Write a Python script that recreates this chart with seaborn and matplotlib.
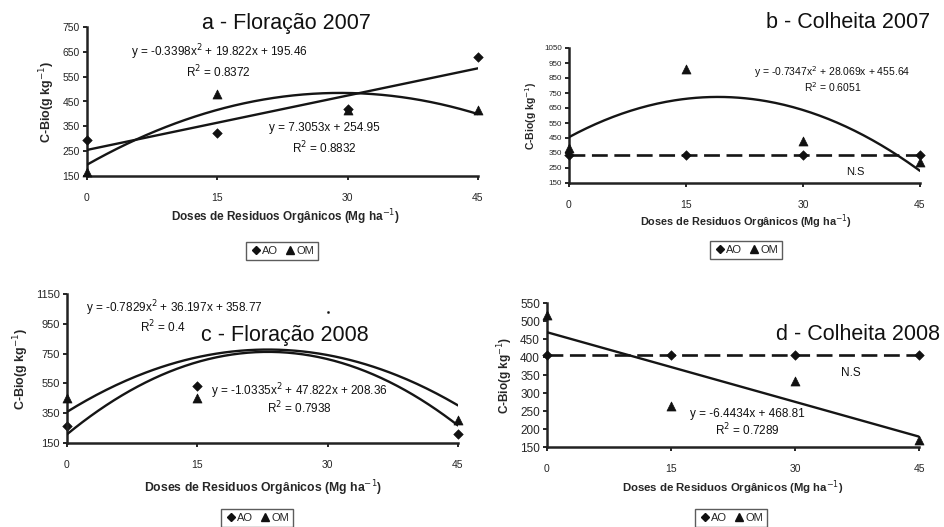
import numpy as np
import pandas as pd
import matplotlib
matplotlib.use("Agg")
import matplotlib.pyplot as plt
import seaborn as sns
from matplotlib.lines import Line2D

# doses (Mg ha-1)
doses = [0, 15, 30, 45]

# a - Floracao 2007
a_ao = [295, 323, 420, 630]
a_om = [165, 480, 415, 416]
a_fit_ao = [7.3053, 254.95]              # linear
a_fit_om = [-0.3398, 19.822, 195.46]     # quadratic

# b - Colheita 2007
b_ao = [335, 335, 335, 335]
b_om = [383, 910, 430, 290]
b_fit_om = [-0.7347, 28.069, 455.64]

# c - Floracao 2008
c_ao = [264, 533, 875, 210]
c_om = [452, 450, 1030, 304]
c_fit_om = [-0.7829, 36.197, 358.77]
c_fit_ao = [-1.0335, 47.822, 208.36]

# d - Colheita 2008
d_ao = [405, 405, 405, 405]
d_om = [517, 265, 333, 170]
d_fit_om = [-6.4434, 468.81]

sns.set_style("ticks")
plt.rcParams['font.family'] = ['Liberation Sans', 'DejaVu Sans']

W, H = 945, 527
fig = plt.figure(figsize=(W / 100, H / 100), dpi=100)

def px_axes(x0, y0, x1, y1):
    return fig.add_axes([x0 / W, 1 - y1 / H, (x1 - x0) / W, (y1 - y0) / H])

def fig_text(x, y, s, **kw):
    return fig.text(x / W, 1 - y / H, s, **kw)

def base(ax, yticks, ysize=7.5, ylab=8.5):
    ax.set_xlim(0, 45)
    ax.set_ylim(yticks[0], yticks[-1])
    ax.set_xticks(doses)
    ax.set_yticks(yticks)
    ax.tick_params(axis='x', labelsize=7.5, length=3, width=1.2, color='black', pad=9)
    ax.tick_params(axis='y', labelsize=ysize, length=3, width=1.2, color='black', pad=2)
    for s in ['top', 'right']:
        ax.spines[s].set_visible(False)
    for s in ['left', 'bottom']:
        ax.spines[s].set_linewidth(1.8)
        ax.spines[s].set_color('#222222')
    ax.set_xlabel('')
    ax.set_ylabel('C-Bio(g kg$^{-1}$)', fontsize=ylab, fontweight='bold', labelpad=4)

def points(ax, ao, om):
    df = pd.DataFrame({'dose': doses, 'AO': ao, 'OM': om})
    sns.scatterplot(data=df, x='dose', y='AO', marker='D', s=24, color='#111111',
                    edgecolor='#111111', ax=ax, clip_on=False, zorder=4)
    sns.scatterplot(data=df, x='dose', y='OM', marker='^', s=42, color='#111111',
                    edgecolor='#111111', ax=ax, clip_on=False, zorder=4)

def curve(ax, coef):
    xs = np.linspace(0, 45, 200)
    sns.lineplot(x=xs, y=np.polyval(coef, xs), color='#151515', lw=1.7, ax=ax, zorder=3)

def hline(ax, vals):
    ax.plot([0, 45], [np.mean(vals)] * 2, color='#151515', lw=1.9,
            ls=(0, (6, 2.5)), zorder=3)

def legend(cx, cy):
    h = [Line2D([], [], marker='D', ls='', color='#111111', ms=4.5),
         Line2D([], [], marker='^', ls='', color='#111111', ms=6)]
    fig.legend(h, ['AO', 'OM'], loc='center', bbox_to_anchor=(cx / W, 1 - cy / H),
               ncol=2, fontsize=8, frameon=True, fancybox=False, edgecolor='#333333',
               handletextpad=0.0, columnspacing=0.5, handlelength=1.1,
               borderpad=0.35, borderaxespad=0)

xlab = 'Doses de Residuos Orgânicos (Mg ha$^{-1}$)'
eq_kw = dict(fontsize=8.5, ha='center', va='center', color='#111111')
title_kw = dict(fontsize=15.5, va='center', color='#111111')

# ---- a
ax = px_axes(87, 27, 478, 176)
curve(ax, a_fit_ao)
curve(ax, a_fit_om)
points(ax, a_ao, a_om)
base(ax, list(range(150, 751, 100)), ylab=9)
ax.text(15.2, 649, 'y = -0.3398x$^2$ + 19.822x + 195.46', **eq_kw)
ax.text(15.1, 569, 'R$^2$ = 0.8372', **eq_kw)
ax.text(27.3, 343, 'y = 7.3053x + 254.95', **eq_kw)
ax.text(27.3, 263, 'R$^2$ = 0.8832', **eq_kw)
fig_text(286, 24, 'a - Floração 2007', ha='center', **title_kw)
fig_text(285, 217, xlab, fontsize=8.5, fontweight='bold', ha='center', va='center')
legend(282, 251)

# ---- b
ax = px_axes(569, 48, 920, 183)
curve(ax, b_fit_om)
hline(ax, b_ao)
points(ax, b_ao, b_om)
base(ax, list(range(150, 1051, 100)), ysize=5.8, ylab=7.5)
ax.text(33.8, 890, 'y = -0.7347x$^2$ + 28.069x + 455.64', fontsize=7.5,
        ha='center', va='center', color='#111111')
ax.text(33.8, 790, 'R$^2$ = 0.6051', fontsize=7.5, ha='center', va='center', color='#111111')
ax.text(36.7, 225, 'N.S', fontsize=8, ha='center', va='center', color='#111111')
fig_text(930, 23, 'b - Colheita 2007', ha='right', **title_kw)
fig_text(746, 222, xlab, fontsize=7.8, fontweight='bold', ha='center', va='center')
legend(746, 250)

# ---- c
ax = px_axes(67, 294, 458, 443)
curve(ax, c_fit_om)
curve(ax, c_fit_ao)
df_c = pd.DataFrame({'dose': doses, 'AO': c_ao, 'OM': c_om})
sns.scatterplot(data=df_c, x='dose', y='AO', marker='D', s=24, color='#111111',
                edgecolor='#111111', ax=ax, clip_on=False, zorder=2)
sns.scatterplot(data=df_c[df_c.dose != 30], x='dose', y='OM', marker='^', s=42,
                color='#111111', edgecolor='#111111', ax=ax, clip_on=False, zorder=4)
sns.scatterplot(data=df_c[df_c.dose == 30], x='dose', y='OM', marker='o', s=3,
                color='#111111', edgecolor='#111111', ax=ax, clip_on=False, zorder=4)
base(ax, list(range(150, 1151, 200)), ysize=8, ylab=9)
ax.text(12.4, 1056, 'y = -0.7829x$^2$ + 36.197x + 358.77', **eq_kw)
ax.text(11.0, 928, 'R$^2$ = 0.4', **eq_kw)
ax.text(26.7, 499, 'y = -1.0335x$^2$ + 47.822x + 208.36', **eq_kw)
ax.text(26.7, 385, 'R$^2$ = 0.7938', **eq_kw)
fig_text(285, 335, 'c - Floração 2008', ha='center', zorder=5,
         bbox=dict(facecolor='white', edgecolor='none', pad=1), **title_kw)
fig_text(263, 488, xlab, fontsize=8.8, fontweight='bold', ha='center', va='center')
legend(257, 518)

# ---- d
ax = px_axes(547, 303, 919, 447)
curve(ax, d_fit_om)
hline(ax, d_ao)
points(ax, d_ao, d_om)
base(ax, list(range(150, 551, 50)), ysize=8.5, ylab=8.5)
ax.text(24.2, 242, 'y = -6.4434x + 468.81', **eq_kw)
ax.text(24.2, 197, 'R$^2$ = 0.7289', **eq_kw)
ax.text(36.8, 355, 'N.S', **eq_kw)
fig_text(940, 335, 'd - Colheita 2008', ha='right', **title_kw)
fig_text(733, 488, xlab, fontsize=8.2, fontweight='bold', ha='center', va='center')
legend(731, 518)

fig.savefig('out.png', dpi=100, facecolor='white')
